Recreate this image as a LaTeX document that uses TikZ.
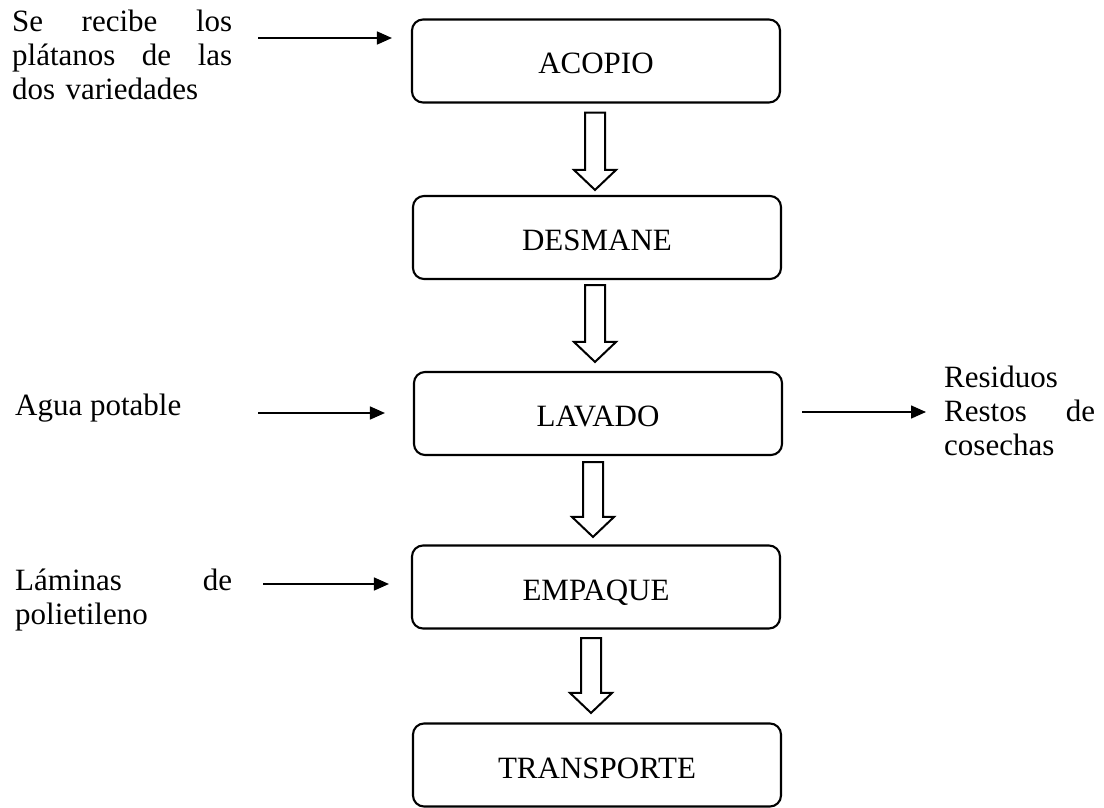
\documentclass[tikz,border=0pt]{standalone}
\usepackage{fontspec}
\setmainfont{Liberation Serif}
\usetikzlibrary{arrows.meta,calc}
\tikzset{
  procbox/.style={draw, line width=2.1pt, rounded corners=11pt, minimum width=368pt,
    minimum height=83pt, inner sep=0pt, text height=26pt, text depth=0pt,
    font=\fontsize{31}{34}\selectfont},
  lbl/.style={inner sep=0pt, anchor=base west, align=left, font=\fontsize{31}{34}\selectfont},
  flow/.style={line width=1.5pt, -{Triangle[length=15pt,width=13pt]}},
  hollow/.style={draw, line width=2pt, line join=miter, fill=white},
}
% #1 from node, #2 to node, #3 x offset, #4 gap below #1, #5 gap above #2
\newcommand\hollowarrow[5]{%
  \draw[hollow] let \p1=($(#1.south)+(#3,#4)$), \p2=($(#2.north)+(#3,-#5)$) in
    (\x1-10pt,\y1) -- (\x1+10pt,\y1) -- (\x1+10pt,\y2+20pt) -- (\x1+21pt,\y2+20pt)
    -- (\x1,\y2) -- (\x1-21pt,\y2+20pt) -- (\x1-10pt,\y2+20pt) -- cycle;}
\begin{document}
\begin{tikzpicture}[x=1pt,y=-1pt]
\useasboundingbox (0,0) rectangle (1104,808);
% process boxes
\node[procbox] (acopio) at (596,61) {ACOPIO};
\node[procbox] (desmane) at (597,237.5) {DESMANE};
\node[procbox] (lavado) at (598,413.5) {LAVADO};
\node[procbox] (empaque) at (596,587) {EMPAQUE};
\node[procbox] (transporte) at (597,765) {TRANSPORTE};
% hollow flow arrows
\hollowarrow{acopio}{desmane}{-1}{9}{5}
\hollowarrow{desmane}{lavado}{-2}{5}{9}
\hollowarrow{lavado}{empaque}{-5}{6}{7.5}
\hollowarrow{empaque}{transporte}{-5}{8.5}{9.5}
% side labels
\node[lbl, text width=220pt] (recibe) at (12,32)
  {\makebox[220pt][s]{Se\hfill recibe\hfill los}\\\makebox[220pt][s]{plátanos\hfill de\hfill las}\\dos variedades};
\node[lbl] (agua) at (15,415) {Agua potable};
\node[lbl, text width=217pt] (laminas) at (15,590)
  {\makebox[217pt][s]{Láminas\hfill de}\\polietileno};
\node[lbl, text width=151pt] (residuos) at (944,387)
  {Residuos\\\makebox[151pt][s]{Restos\hfill de}\\cosechas};
% thin arrows
\coordinate (inA) at (258,38);
\draw[flow, shorten >=19pt] (inA) -- (inA -| acopio.west);
\coordinate (inB) at (258,413);
\draw[flow, shorten >=28pt] (inB) -- (inB -| lavado.west);
\coordinate (inC) at (263,584);
\draw[flow, shorten >=22pt] (inC) -- (inC -| empaque.west);
\coordinate (outA) at (926,412);
\draw[flow, shorten <=19pt] (lavado.east |- outA) -- (outA);
\end{tikzpicture}
\end{document}
